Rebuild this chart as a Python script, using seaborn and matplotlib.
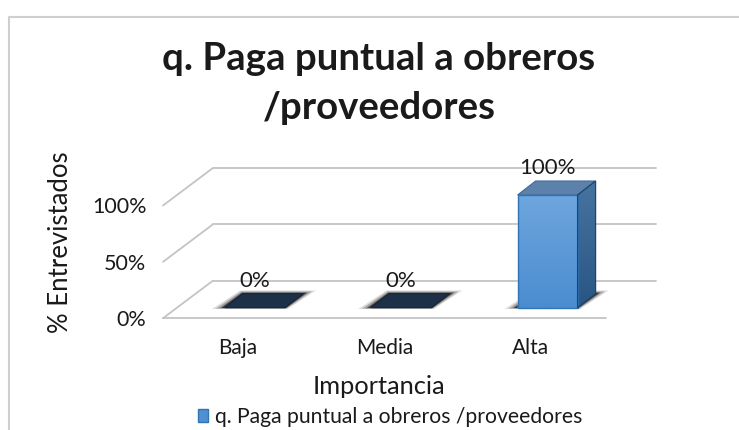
import numpy as np
import pandas as pd
import matplotlib
matplotlib.use("Agg")
import matplotlib.pyplot as plt
from matplotlib.lines import Line2D
from matplotlib.patches import Polygon, Patch
from matplotlib.transforms import Affine2D, IdentityTransform
import seaborn as sns

categories = ["Baja", "Media", "Alta"]
values = [0, 0, 100]
y_ticks = [0, 50, 100]
y_tick_labels = ["0%", "50%", "100%"]
series_name = "q. Paga puntual a obreros /proveedores"
title = "q. Paga puntual a obreros\n/proveedores"

W, H = 739, 430
sns.set_theme(style="white")
plt.rcParams["font.family"] = ["Lato", "DejaVu Sans"]

fig = plt.figure(figsize=(W / 100, H / 100), dpi=100)
# Axes placed so the front plane of the bars sits where it does in the chart
ax = fig.add_axes([181.75 / W, (H - 307.7) / H, 439 / W, 112.7 / H])
df = pd.DataFrame({"cat": categories, "val": values})
sns.barplot(data=df, x="cat", y="val", width=0.41, color="#5b9bd9", ax=ax, zorder=5)
ax.set_xlim(-0.5, 2.5)
ax.set_ylim(0, 100)
sns.despine(ax=ax, left=True, bottom=True)
ax.set_yticks(y_ticks, y_tick_labels)
ax.tick_params(axis="both", length=0)
ax.tick_params(axis="y", labelsize=15.5, labelcolor="#1a1a1a", pad=25.5)
ax.tick_params(axis="x", labelsize=15, labelcolor="#1a1a1a", pad=22)
ax.patch.set_alpha(0)

# Shift tick labels onto the 3D floor's front edge
for lab in ax.get_xticklabels():
    lab.set_transform(lab.get_transform() + Affine2D().translate(-17, 0))
for lab in ax.get_yticklabels():
    lab.set_transform(lab.get_transform() + Affine2D().translate(0, -10.5))

GRID = "#c4c4c4"
x_front0, x_front1, x_back0, x_back1 = -0.628, 2.396, -0.287, 2.744
front_dy, back_dy = -10.5, 27.0
to_front = ax.transData + Affine2D().translate(0, front_dy)
to_back = ax.transData + Affine2D().translate(0, back_dy)
for v in y_ticks:
    ax.add_line(Line2D([x_back0, x_back1], [v, v], color=GRID, lw=1.3,
                       transform=to_back, clip_on=False, zorder=1))
    # diagonal wall segment from front to back
    p0 = to_front.transform((x_front0, v))
    p1 = to_back.transform((x_back0, v))
    ax.add_line(Line2D([p0[0], p1[0]], [p0[1], p1[1]], color=GRID, lw=1.3,
                       transform=IdentityTransform(), clip_on=False, zorder=1))
ax.add_line(Line2D([x_front0, x_front1], [0, 0], color=GRID, lw=1.3,
                   transform=to_front, clip_on=False, zorder=1))

DX, DY = 18, 14.0


def gradient_face(pts, top, bottom, zorder):
    pts = np.asarray(pts)
    poly = Polygon(pts, closed=True, transform=IdentityTransform(), fc="none", ec="none")
    ax.add_patch(poly)
    c0, c1 = np.array(matplotlib.colors.to_rgb(top)), np.array(matplotlib.colors.to_rgb(bottom))
    grad = np.linspace(c0, c1, 64)[:, None, :]
    im = ax.imshow(grad, aspect="auto", interpolation="bilinear", zorder=zorder,
                   extent=[pts[:, 0].min(), pts[:, 0].max(), pts[:, 1].min(), pts[:, 1].max()],
                   origin="upper")
    im.set_transform(IdentityTransform())
    im.set_clip_box(fig.bbox)
    im.set_clip_path(poly)


for bar, val in zip(ax.patches, values):
    (x0, y0), (x1, y1) = ax.transData.transform(
        [(bar.get_x(), 0), (bar.get_x() + bar.get_width(), bar.get_height())])
    # soft floor shadow
    for grow, alpha, col in [(13, 0.25, "#777777"), (9, 0.4, "#555555"), (5, 0.6, "#333333"), (3, 0.8, "#222222")]:
        ax.add_patch(Polygon([(x0 - grow, y0 - grow * 0.1), (x1 + grow * 0.2, y0 - grow * 0.1),
                              (x1 + DX + grow, y0 + DY + grow * 0.25), (x0 + DX - grow * 0.2, y0 + DY + grow * 0.25)],
                             closed=True, fc=col, ec="none", alpha=alpha,
                             transform=IdentityTransform(), clip_on=False, zorder=3))
    if val == 0:
        bar.set_visible(False)
        ax.add_patch(Polygon([(x0, y0), (x1, y0), (x1 + DX, y0 + DY), (x0 + DX, y0 + DY)],
                             closed=True, fc="#1c3148", ec="#16283c", lw=0.8,
                             transform=IdentityTransform(), clip_on=False, zorder=6))
    else:
        bar.set_facecolor("none")
        gradient_face([(x0, y0), (x1, y0), (x1, y1), (x0, y1)], "#6ea6de", "#4b8cd0", 5)
        gradient_face([(x1, y0), (x1 + DX, y0 + DY), (x1 + DX, y1 + DY), (x1, y1)], "#47739f", "#285684", 5)
        ax.add_patch(Polygon([(x0, y1), (x1, y1), (x1 + DX, y1 + DY), (x0 + DX, y1 + DY)],
                             closed=True, fc="#5c81ab", ec="#3f6b98", lw=0.8,
                             transform=IdentityTransform(), clip_on=False, zorder=6))
        ax.add_patch(Polygon([(x0, y0), (x1, y0), (x1, y1), (x0, y1)],
                             closed=True, fc="none", ec="#2f74b5", lw=1.0,
                             transform=IdentityTransform(), clip_on=False, zorder=7))
        ax.add_patch(Polygon([(x1, y0), (x1 + DX, y0 + DY), (x1 + DX, y1 + DY), (x1, y1)],
                             closed=True, fc="none", ec="#1d456e", lw=0.9,
                             transform=IdentityTransform(), clip_on=False, zorder=7))
ax.set_xlim(-0.5, 2.5)
ax.set_ylim(0, 100)

labels = ax.bar_label(ax.containers[0], labels=[f"{v}%" for v in values], padding=12,
                      fontsize=16, color="#1a1a1a", zorder=8)
for t in labels:
    t.set_clip_on(False)
    t.set_visible(True)

fig.text(379 / W, 1 - 42 / H, title, ha="center", va="top", fontsize=27.6, fontweight="bold",
         color="#1a1a1a", linespacing=1.52)
ax.set_xlabel("Importancia", fontsize=18.3, color="#1a1a1a")
ax.xaxis.set_label_coords(379 / W, 1 - 386 / H, transform=fig.transFigure)
ax.xaxis.label.set_va("center")
ax.set_ylabel("% Entrevistados", fontsize=18.5, color="#1a1a1a")
ax.yaxis.set_label_coords(61 / W, 1 - 242 / H, transform=fig.transFigure)
ax.yaxis.label.set_va("center")

fig.legend(handles=[Patch(fc="#4f90d3", ec="#2f74b5", label=series_name)],
           loc="center", bbox_to_anchor=(390 / W, 1 - 417 / H), frameon=False,
           fontsize=15.2, handlelength=0.5, handleheight=0.5, handletextpad=0.3,
           labelcolor="#1a1a1a")

# Chart-area frame: top and left edges only
fig.add_artist(Line2D([9 / W, 9 / W, 1], [0, 1 - 17 / H, 1 - 17 / H], color="#cfcfcf", lw=1.5,
                      transform=fig.transFigure))

fig.savefig("out.png", dpi=100, facecolor="white")
